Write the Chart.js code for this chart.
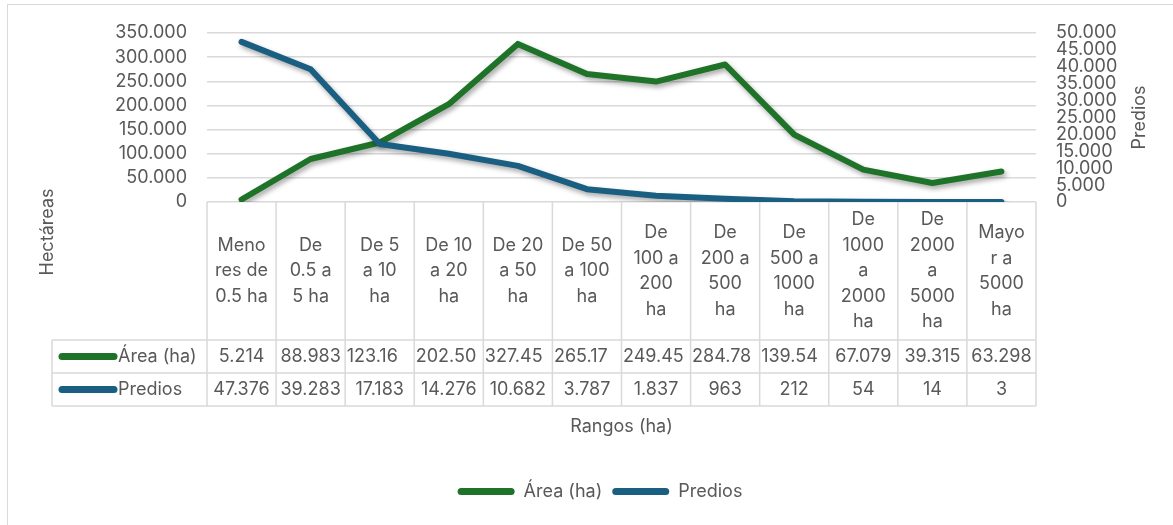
<!DOCTYPE html>
<html>
<head>
<meta charset="utf-8">
<script src="https://cdn.jsdelivr.net/npm/chart.js@4.4.1/dist/chart.umd.min.js"></script>
<style>
  html, body { margin: 0; padding: 0; background: #fff; }
  #wrap { width: 1173px; height: 525px; }
</style>
</head>
<body>
<div id="wrap"><canvas id="chart" width="1173" height="525"></canvas></div>
<script>
// Rangos de tamaño (cabecera de la tabla, ya partida en líneas como en Excel)
const categories = [
    ['Meno', 'res de', '0.5 ha'],
    ['De', '0.5 a', '5 ha'],
    ['De 5', 'a 10', 'ha'],
    ['De 10', 'a 20', 'ha'],
    ['De 20', 'a 50', 'ha'],
    ['De 50', 'a 100', 'ha'],
    ['De', '100 a', '200', 'ha'],
    ['De', '200 a', '500', 'ha'],
    ['De', '500 a', '1000', 'ha'],
    ['De', '1000', 'a', '2000', 'ha'],
    ['De', '2000', 'a', '5000', 'ha'],
    ['Mayo', 'r a', '5000', 'ha']
];
const areaHa = [5214, 88983, 123160, 202500, 327450, 265170, 249450, 284780, 139540, 67079, 39315, 63298];
const predios = [47376, 39283, 17183, 14276, 10682, 3787, 1837, 963, 212, 54, 14, 3];
const areaTicks = [0, 50000, 100000, 150000, 200000, 250000, 300000, 350000];
const prediosTicks = [0, 5000, 10000, 15000, 20000, 25000, 30000, 35000, 40000, 45000, 50000];

const GREEN = '#1E7329';
const BLUE = '#1A5F82';
const TEXT = '#595959';
const GRID = '#D9D9D9';
const FONT = "Inter, 'Noto Sans', sans-serif";
const FS = 18;

function fmt(v) {
    return String(Math.round(v)).replace(/\B(?=(\d{3})+(?!\d))/g, '.');
}

// sombra de las líneas (estilo Excel)
const shadowPlugin = {
    id: 'lineShadow',
    beforeDatasetDraw(chart) {
        const ctx = chart.ctx;
        ctx.save();
        ctx.shadowColor = 'rgba(0,0,0,0.35)';
        ctx.shadowBlur = 5;
        ctx.shadowOffsetX = 2;
        ctx.shadowOffsetY = 3;
    },
    afterDatasetDraw(chart) {
        chart.ctx.restore();
    }
};

// marco, títulos de ejes y tabla de datos bajo el eje X
const tablePlugin = {
    id: 'dataTable',
    beforeDraw(chart) {
        const ctx = chart.ctx;
        ctx.save();
        ctx.strokeStyle = GRID;
        ctx.lineWidth = 1;
        ctx.strokeRect(7.5, 4.5, 1300, 700);
        ctx.restore();
    },
    afterDraw(chart) {
        const { ctx, chartArea, scales } = chart;
        const x = scales.x;
        const n = categories.length;
        const w = (chartArea.right - chartArea.left) / n;
        const top = chartArea.bottom;
        const headBottom = top + 138;
        const rowH = 33;
        const bottom = headBottom + rowH * 2;
        const keyLeft = 52;

        ctx.save();
        ctx.strokeStyle = GRID;
        ctx.lineWidth = 1.5;
        ctx.beginPath();
        for (let i = 0; i < n; i++) {
            const left = x.getPixelForValue(i) - w / 2;
            ctx.moveTo(left, top); ctx.lineTo(left, bottom);
        }
        const rightEdge = x.getPixelForValue(n - 1) + w / 2;
        ctx.moveTo(rightEdge, top); ctx.lineTo(rightEdge, bottom);
        ctx.moveTo(keyLeft, headBottom); ctx.lineTo(keyLeft, bottom);
        [headBottom, headBottom + rowH, bottom].forEach(yy => {
            ctx.moveTo(keyLeft, yy); ctx.lineTo(rightEdge, yy);
        });
        ctx.stroke();

        ctx.fillStyle = TEXT;
        ctx.font = FS + 'px ' + FONT;
        ctx.textAlign = 'center';
        ctx.textBaseline = 'middle';
        const LH = 25.5;
        categories.forEach((lines, i) => {
            const cx = x.getPixelForValue(i);
            const y0 = (top + headBottom) / 2 - (lines.length - 1) * LH / 2;
            lines.forEach((t, j) => ctx.fillText(t, cx, y0 + j * LH));
        });

        chart.data.datasets.forEach((ds, r) => {
            const cy = headBottom + rowH * r + rowH / 2;
            ctx.save();
            ctx.strokeStyle = ds.borderColor;
            ctx.lineWidth = 7;
            ctx.lineCap = 'round';
            ctx.beginPath();
            ctx.moveTo(62, cy); ctx.lineTo(114, cy);
            ctx.stroke();
            ctx.restore();
            ctx.textAlign = 'left';
            ctx.fillText(ds.label, 118, cy);
            ds.data.forEach((v, i) => {
                let t = fmt(v);
                const cx = x.getPixelForValue(i);
                const room = w - 6;
                // los números de 7 caracteres no caben: la celda los corta como Excel
                if (t.length < 7 && ctx.measureText(t).width <= room) {
                    ctx.textAlign = 'center';
                    ctx.fillText(t, cx, cy);
                } else {
                    t = t.slice(0, 6);
                    while (t.length > 1 && ctx.measureText(t).width > room) t = t.slice(0, -1);
                    ctx.textAlign = 'left';
                    ctx.fillText(t, cx - w / 2 + 1.5, cy);
                }
            });
        });

        // títulos de ejes verticales
        ctx.textAlign = 'center';
        ctx.save();
        ctx.translate(48, 232);
        ctx.rotate(-Math.PI / 2);
        ctx.fillText('Hectáreas', 0, 0);
        ctx.restore();
        ctx.save();
        ctx.translate(1140, (chartArea.top + chartArea.bottom) / 2);
        ctx.rotate(-Math.PI / 2);
        ctx.fillText('Predios', 0, 0);
        ctx.restore();
        ctx.restore();
    }
};

new Chart(document.getElementById('chart'), {
    type: 'line',
    data: {
        labels: categories,
        datasets: [{
            label: 'Área (ha)',
            data: areaHa,
            yAxisID: 'y',
            borderColor: GREEN,
            backgroundColor: GREEN,
            borderWidth: 6,
            pointRadius: 0,
            tension: 0,
            borderCapStyle: 'round',
            borderJoinStyle: 'round',
            order: 2
        }, {
            label: 'Predios',
            data: predios,
            yAxisID: 'y1',
            borderColor: BLUE,
            backgroundColor: BLUE,
            borderWidth: 6,
            pointRadius: 0,
            tension: 0,
            borderCapStyle: 'round',
            borderJoinStyle: 'round',
            order: 1
        }]
    },
    options: {
        responsive: false,
        animation: false,
        layout: { padding: { left: 27, right: 0, top: 33, bottom: 14.5 } },
        plugins: {
            legend: {
                position: 'bottom',
                labels: {
                    boxWidth: 57,
                    boxHeight: 7,
                    padding: 10,
                    color: TEXT,
                    font: { size: FS, family: FONT },
                    generateLabels: chart => chart.data.datasets.map((ds, i) => ({
                        text: ds.label,
                        fillStyle: ds.borderColor,
                        strokeStyle: ds.borderColor,
                        lineWidth: 0,
                        borderRadius: 3.5,
                        fontColor: TEXT,
                        hidden: false,
                        datasetIndex: i
                    }))
                }
            },
            tooltip: { enabled: false }
        },
        scales: {
            x: {
                offset: true,
                grid: { display: false },
                border: { display: false },
                ticks: { display: false },
                title: {
                    display: true,
                    text: 'Rangos (ha)',
                    color: TEXT,
                    font: { size: FS, family: FONT },
                    padding: { top: 0, bottom: 35 }
                },
                afterFit(s) { s.height = 270.5; }
            },
            y: {
                position: 'left',
                min: 0,
                max: areaTicks[areaTicks.length - 1],
                afterBuildTicks(s) { s.ticks = areaTicks.map(v => ({ value: v })); },
                ticks: { color: TEXT, font: { size: FS, family: FONT }, padding: 20, autoSkip: false, callback: v => fmt(v) },
                grid: { color: GRID, lineWidth: 1.5, drawTicks: false },
                border: { display: false },
                afterFit(s) { s.width = 180; }
            },
            y1: {
                position: 'right',
                min: 0,
                max: prediosTicks[prediosTicks.length - 1],
                afterBuildTicks(s) { s.ticks = prediosTicks.map(v => ({ value: v })); },
                ticks: { color: TEXT, font: { size: FS, family: FONT }, padding: 20, autoSkip: false, callback: v => fmt(v) },
                grid: { display: false, drawTicks: false },
                border: { display: false },
                afterFit(s) { s.width = 137; }
            }
        }
    },
    plugins: [shadowPlugin, tablePlugin]
});
</script>
</body>
</html>
